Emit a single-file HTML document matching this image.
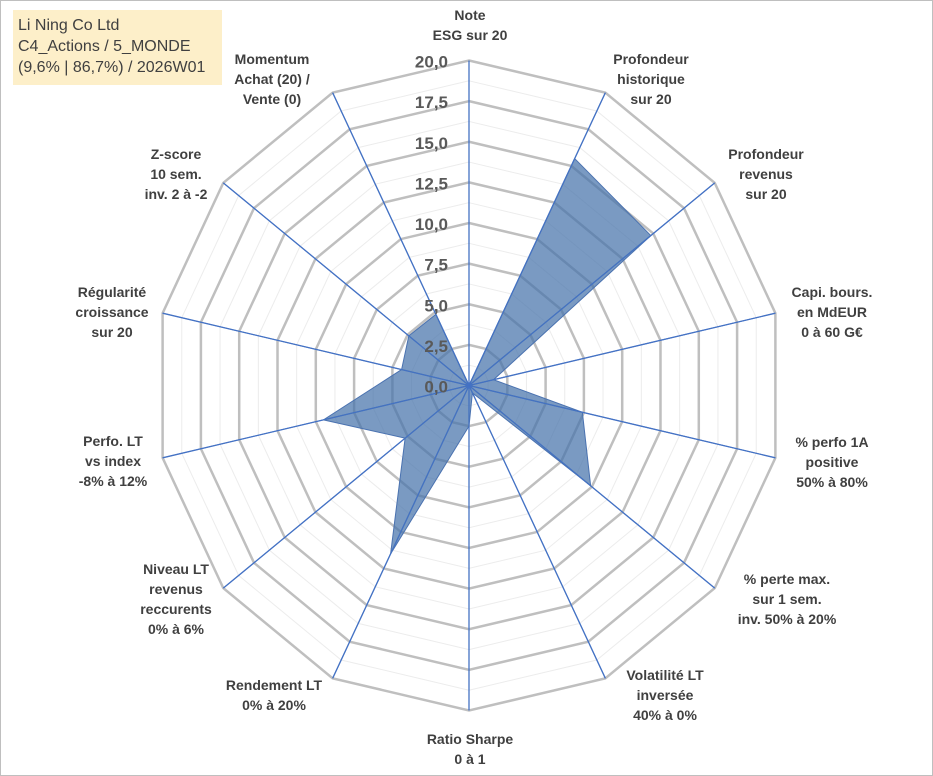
<!DOCTYPE html>
<html><head><meta charset="utf-8"><style>
body{margin:0;background:#fff;font-family:"Liberation Sans",sans-serif}
#wrap{position:relative;width:933px;height:776px;overflow:hidden}
.lbl{position:absolute;font-weight:bold;font-size:14px;line-height:20px;color:#404040;text-align:center;white-space:nowrap;transform:translateX(-50%)}
</style></head><body>
<div id="wrap">
<svg id="svg" width="933" height="776" style="position:absolute;left:0;top:0">
<rect x="0.5" y="0.5" width="932" height="775" fill="#fff" stroke="#bfbfbf"/>
</svg>
<div style="position:absolute;left:13px;top:10px;width:209px;height:75px;background:#fdefc9;font-size:16px;line-height:21px;color:#404040;padding:5px 0 0 5px;box-sizing:border-box">Li Ning Co Ltd<br>C4_Actions / 5_MONDE<br>(9,6% | 86,7%) / 2026W01</div>
<div class="lbl" style="left:470px;top:5px">Note<br>ESG sur 20</div>
<div class="lbl" style="left:651px;top:49px">Profondeur<br>historique<br>sur 20</div>
<div class="lbl" style="left:766px;top:144px">Profondeur<br>revenus<br>sur 20</div>
<div class="lbl" style="left:832px;top:282px">Capi. bours.<br>en MdEUR<br>0 à 60 G€</div>
<div class="lbl" style="left:832px;top:432px">% perfo 1A<br>positive<br>50% à 80%</div>
<div class="lbl" style="left:787px;top:569px">% perte max.<br>sur 1 sem.<br>inv. 50% à 20%</div>
<div class="lbl" style="left:665px;top:665px">Volatilité LT<br>inversée<br>40% à 0%</div>
<div class="lbl" style="left:470px;top:729px">Ratio Sharpe<br>0 à 1</div>
<div class="lbl" style="left:274px;top:675px">Rendement LT<br>0% à 20%</div>
<div class="lbl" style="left:176px;top:559px">Niveau LT<br>revenus<br>reccurents<br>0% à 6%</div>
<div class="lbl" style="left:113px;top:431px">Perfo. LT<br>vs index<br>-8% à 12%</div>
<div class="lbl" style="left:112px;top:282px">Régularité<br>croissance<br>sur 20</div>
<div class="lbl" style="left:176px;top:144px">Z-score<br>10 sem.<br>inv. 2 à -2</div>
<div class="lbl" style="left:272px;top:49px">Momentum<br>Achat (20) /<br>Vente (0)</div>
</div>
<script>
const categories=["ESG","Prof. historique","Prof. revenus","Capi","Perfo 1A","Perte max","Volatilite","Sharpe","Rendement","Niveau LT","Perfo LT","Regularite","Z-score","Momentum"];
const values=[0,15.5,14.8,1.6,7.4,9.9,0.5,2.5,11.5,5.2,9.5,4.4,4.9,4.86];
const tickLabels=["0,0","2,5","5,0","7,5","10,0","12,5","15,0","17,5","20,0"];
const maxVal=20;
const NS="http://www.w3.org/2000/svg";
const svg=document.getElementById('svg');
const cx=469,cy=385.5,R=325,SX=0.967,n=categories.length;
function ang(i){return i*2*Math.PI/n;}
function pt(i,v){const r=v/maxVal*R,a=ang(i);return [cx+r*SX*Math.sin(a),cy-r*Math.cos(a)];}
function mk(tag,attrs){const e=document.createElementNS(NS,tag);for(const k in attrs)e.setAttribute(k,attrs[k]);svg.appendChild(e);return e;}
for(let k=1;k<=16;k++){
  const v=k*1.25;const pts=[];for(let i=0;i<n;i++)pts.push(pt(i,v).join(','));
  const major=k%2===0;
  const e=mk('polygon',{points:pts.join(' '),fill:'none',stroke:major?'#bfbfbf':'#ececec','stroke-width':major?2.5:1});
  
  
}
for(let i=0;i<n;i++){
  const p=pt(i,maxVal);
  const e=mk('line',{x1:cx,y1:cy,x2:p[0],y2:p[1],stroke:'#4472c4','stroke-width':1.3});
  
  
}
const sp=values.map((v,i)=>pt(i,v).join(',')).join(' ');
const poly=mk('polygon',{points:sp,fill:'rgba(70,115,170,0.72)',stroke:'#4a72b0','stroke-width':1});


for(let i=0;i<n;i++){
  const p=pt(i,maxVal);
  const e=mk('line',{x1:cx,y1:cy,x2:p[0],y2:p[1],stroke:'#4472c4','stroke-width':1});
  
  
}
tickLabels.forEach((t,k)=>{
  const v=k*2.5;
  const e=mk('text',{x:cx-21,y:cy-v/maxVal*R+7,'text-anchor':'end','font-size':17,'font-weight':'bold',fill:'#595959','font-family':'Liberation Sans, sans-serif'});
  e.textContent=t;
  
  
});
</script>
</body></html>
